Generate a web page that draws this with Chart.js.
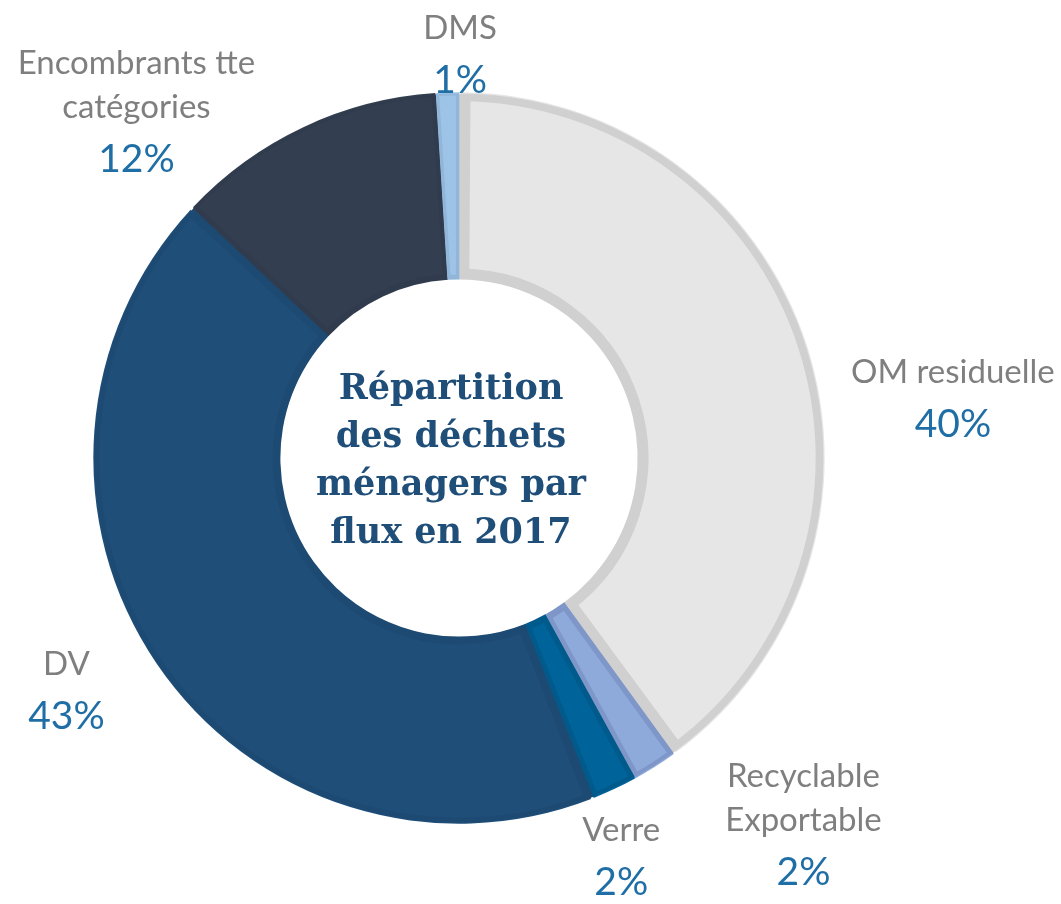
<!DOCTYPE html>
<html lang="fr">
<head>
    <meta charset="UTF-8">
    <title>Répartition des déchets ménagers par flux en 2017</title>
    <script src="https://cdn.jsdelivr.net/npm/chart.js"></script>
    <style>
        html, body { margin: 0; padding: 0; background: #fff; }
        #wrap { width: 1061px; height: 904px; }
    </style>
</head>
<body>
    <div id="wrap"><canvas id="donut"></canvas></div>

    <script>
        // donnees (sens horaire depuis le haut)
        const flux = ['OM residuelle', 'Recyclable Exportable', 'Verre', 'DV', 'Encombrants tte catégories', 'DMS'];
        const fluxLignes = [['OM residuelle'], ['Recyclable', 'Exportable'], ['Verre'], ['DV'], ['Encombrants tte', 'catégories'], ['DMS']];
        const parts = [40, 2, 2, 43, 12, 1];
        const titre = ['Répartition', 'des déchets', 'ménagers par', 'flux en 2017'];

        const fonds = ['#e6e6e6', '#8eaadb', '#00649b', '#1f4e79', '#333f50', '#9dc3e6'];
        const bords = ['#d0d0d0', '#7f97c8', '#005a8c', '#1d4a73', '#303c4d', '#92b6d9'];
        const epaisseurs = [9, 5, 5, 6, 4, 3];
        // position du haut de chaque etiquette, en fraction du rayon exterieur
        const posEtiquettes = [[1.355, -0.235], [0.945, 0.874], [0.445, 1.022], [-1.077, 0.566], [-0.885, -1.082], [0.003, -1.178]];

        const etiquettes = {
            id: 'etiquettes',
            afterDraw(chart) {
                const ctx = chart.ctx;
                const arcs = chart.getDatasetMeta(0).data;
                const cx = arcs[0].x, cy = arcs[0].y, R = arcs[0].outerRadius;
                ctx.save();
                ctx.textAlign = 'center';
                ctx.textBaseline = 'middle';
                arcs.forEach((a, i) => {
                    const x = cx + posEtiquettes[i][0] * R;
                    let y = cy + posEtiquettes[i][1] * R;
                    ctx.fillStyle = '#7f7f7f';
                    ctx.font = '33px Lato';
                    fluxLignes[i].forEach((l, k) => {
                        ctx.fillText(l, x, y + k * 44);
                    });
                    y += (fluxLignes[i].length - 1) * 44 + 52;
                    ctx.fillStyle = '#1f6ea5';
                    ctx.font = '39px Lato';
                    ctx.fillText(parts[i] + '%', x, y);
                });
                // titre au centre
                ctx.fillStyle = '#1f4e79';
                ctx.font = 'bold 35px "DejaVu Serif"';
                titre.forEach((l, k) => {
                    ctx.fillText(l, cx - 8, cy - 68 + k * 48);
                });
                ctx.restore();
            }
        };

        document.addEventListener("DOMContentLoaded", function() {
            const ctx = document.getElementById('donut').getContext('2d');
            new Chart(ctx, {
                type: 'doughnut',
                data: {
                    labels: flux,
                    datasets: [{
                        data: parts,
                        backgroundColor: fonds,
                        borderColor: bords,
                        borderWidth: epaisseurs,
                        borderAlign: 'inner',
                        spacing: 3,
                        hoverOffset: 0
                    }]
                },
                options: {
                    responsive: true,
                    maintainAspectRatio: false,
                    animation: false,
                    cutout: '49%',
                    layout: { padding: { left: 93, top: 92, right: 236, bottom: 80 } },
                    plugins: {
                        legend: { display: false },
                        tooltip: { enabled: false }
                    }
                },
                plugins: [etiquettes]
            });
        });
    </script>
</body>
</html>
